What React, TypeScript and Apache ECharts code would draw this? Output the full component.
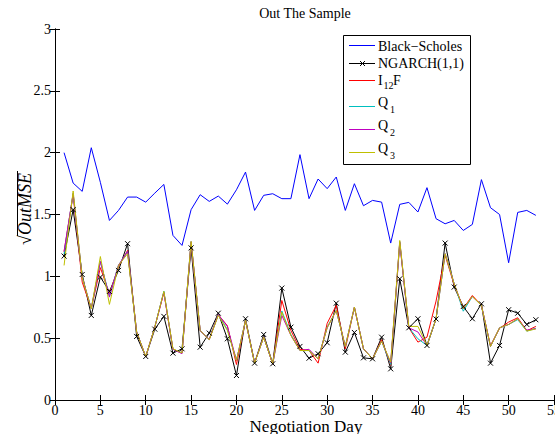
import React, { useEffect, useRef } from "react";
import * as echarts from "echarts";

const days = [1, 2, 3, 4, 5, 6, 7, 8, 9, 10, 11, 12, 13, 14, 15, 16, 17, 18, 19, 20, 21, 22, 23, 24, 25, 26, 27, 28, 29, 30, 31, 32, 33, 34, 35, 36, 37, 38, 39, 40, 41, 42, 43, 44, 45, 46, 47, 48, 49, 50, 51, 52, 53];

const blackScholes = [2.0, 1.754, 1.687, 2.04, 1.76, 1.452, 1.533, 1.641, 1.641, 1.6, 1.673, 1.743, 1.331, 1.25, 1.539, 1.66, 1.606, 1.649, 1.584, 1.7, 1.843, 1.533, 1.655, 1.668, 1.628, 1.628, 1.984, 1.628, 1.787, 1.709, 1.803, 1.533, 1.749, 1.571, 1.614, 1.6, 1.269, 1.582, 1.598, 1.52, 1.717, 1.466, 1.425, 1.452, 1.371, 1.42, 1.782, 1.555, 1.5, 1.11, 1.517, 1.533, 1.493];

const ngarch = [1.164, 1.539, 1.015, 0.684, 0.994, 0.878, 1.048, 1.264, 0.514, 0.352, 0.573, 0.676, 0.379, 0.414, 1.23, 0.427, 0.541, 0.702, 0.495, 0.198, 0.657, 0.298, 0.53, 0.293, 0.905, 0.589, 0.433, 0.338, 0.374, 0.463, 0.783, 0.387, 0.546, 0.341, 0.333, 0.508, 0.252, 0.98, 0.584, 0.657, 0.441, 0.655, 1.269, 0.913, 0.756, 0.657, 0.778, 0.298, 0.441, 0.73, 0.702, 0.611, 0.649];

const i12f = [1.2, 1.66, 0.953, 0.74, 1.07, 0.86, 1.08, 1.21, 0.55, 0.35, 0.59, 0.87, 0.41, 0.38, 1.27, 0.56, 0.49, 0.69, 0.6, 0.287, 0.643, 0.3, 0.51, 0.29, 0.805, 0.562, 0.41, 0.4, 0.298, 0.62, 0.765, 0.414, 0.75, 0.414, 0.333, 0.487, 0.28, 1.27, 0.584, 0.468, 0.508, 0.8, 1.17, 0.93, 0.74, 0.845, 0.765, 0.44, 0.58, 0.63, 0.665, 0.56, 0.595];

const q1 = [1.18, 1.67, 0.99, 0.74, 1.12, 0.84, 1.09, 1.2, 0.55, 0.35, 0.59, 0.88, 0.41, 0.38, 1.28, 0.56, 0.49, 0.69, 0.57, 0.32, 0.643, 0.3, 0.51, 0.29, 0.72, 0.53, 0.4, 0.4, 0.333, 0.59, 0.724, 0.433, 0.75, 0.414, 0.333, 0.476, 0.287, 1.28, 0.584, 0.495, 0.441, 0.657, 1.183, 0.94, 0.718, 0.837, 0.765, 0.433, 0.584, 0.611, 0.65, 0.557, 0.58];

const q2 = [1.2, 1.67, 0.99, 0.74, 1.12, 0.832, 1.09, 1.2, 0.55, 0.35, 0.59, 0.87, 0.41, 0.374, 1.28, 0.56, 0.49, 0.69, 0.595, 0.32, 0.643, 0.3, 0.51, 0.29, 0.684, 0.522, 0.4, 0.41, 0.333, 0.584, 0.724, 0.433, 0.751, 0.414, 0.333, 0.476, 0.3, 1.28, 0.584, 0.55, 0.441, 0.657, 1.183, 0.94, 0.738, 0.837, 0.765, 0.433, 0.584, 0.611, 0.657, 0.565, 0.576];

const q3 = [1.088, 1.69, 0.99, 0.738, 1.16, 0.773, 1.088, 1.183, 0.549, 0.352, 0.589, 0.878, 0.414, 0.38, 1.282, 0.562, 0.487, 0.684, 0.562, 0.32, 0.643, 0.298, 0.508, 0.293, 0.71, 0.522, 0.4, 0.4, 0.333, 0.584, 0.724, 0.433, 0.751, 0.414, 0.333, 0.476, 0.306, 1.29, 0.595, 0.595, 0.441, 0.657, 1.183, 0.94, 0.738, 0.837, 0.765, 0.433, 0.584, 0.611, 0.657, 0.557, 0.575];

const FONT = "Liberation Serif";
const xMarker = "path://M0,0L10,10M10,0L0,10";

const pairs = (vals: number[]) => days.map((d, i) => [d, vals[i]]);

export default function App() {
  const ref = useRef<HTMLDivElement>(null);
  useEffect(() => {
    if (!ref.current) return;
    const chart = echarts.init(ref.current, undefined, { renderer: "svg" });
    const axisCommon = {
      axisLine: { show: true, lineStyle: { color: "#000", width: 1 } },
      axisTick: { show: true, inside: true, length: 5, lineStyle: { color: "#000" } },
      splitLine: { show: false },
    };
    const lineSeries = (name: string, vals: number[], color: string) => ({
      name,
      type: "line",
      xAxisIndex: 0,
      yAxisIndex: 0,
      data: pairs(vals),
      showSymbol: false,
      symbol: "none",
      lineStyle: { color, width: 1 },
      itemStyle: { color },
      silent: true,
    });
    const leg = (y: number, color: string) => ({
      type: "line",
      z: 20,
      shape: { x1: 349, y1: y, x2: 375, y2: y },
      style: { stroke: color, lineWidth: 1 },
    });
    const txt = (x: number, y: number, text: string, size = 14) => ({
      type: "text",
      z: 20,
      x,
      y,
      style: { text, font: `${size}px "${FONT}"`, fill: "#000", textVerticalAlign: "middle" },
    });
    chart.setOption({
      animation: false,
      backgroundColor: "#fff",
      grid: { left: 55, right: 1, top: 29, bottom: 34, outerBoundsMode: "none", containLabel: false },
      xAxis: [
        {
          type: "value",
          min: 0,
          max: 55,
          interval: 5,
          position: "bottom",
          axisLabel: { fontFamily: FONT, fontSize: 14, color: "#000", margin: 3, showMaxLabel: true },
          ...axisCommon,
        },
        {
          type: "value",
          min: 0,
          max: 55,
          interval: 5,
          position: "top",
          axisLabel: { show: false },
          ...axisCommon,
        },
      ],
      yAxis: [
        {
          type: "value",
          min: 0,
          max: 3,
          interval: 0.5,
          position: "left",
          axisLabel: { fontFamily: FONT, fontSize: 14, color: "#000", margin: 4 },
          ...axisCommon,
        },
        {
          type: "value",
          min: 0,
          max: 3,
          interval: 0.5,
          position: "right",
          axisLabel: { show: false },
          ...axisCommon,
        },
      ],
      series: [
        lineSeries("Black−Scholes", blackScholes, "#0000FF"),
        {
          ...lineSeries("NGARCH(1,1)", ngarch, "#000000"),
          showSymbol: true,
          symbol: xMarker,
          symbolSize: 5,
          itemStyle: { color: "#000", borderColor: "#000", borderWidth: 1 },
        },
        lineSeries("I12F", i12f, "#FF0000"),
        lineSeries("Q1", q1, "#00BFBF"),
        lineSeries("Q2", q2, "#BF00BF"),
        lineSeries("Q3", q3, "#BFBF00"),
      ],
      graphic: [
        {
          type: "text",
          x: 305,
          y: 13,
          style: {
            text: "Out The Sample",
            font: `14px "${FONT}"`,
            fill: "#000",
            textAlign: "center",
            textVerticalAlign: "middle",
          },
        },
        {
          type: "text",
          x: 306,
          y: 426,
          style: {
            text: "Negotiation Day",
            font: `17px "${FONT}"`,
            fill: "#000",
            textAlign: "center",
            textVerticalAlign: "middle",
          },
        },
        {
          type: "rect",
          z: 10,
          shape: { x: 343.5, y: 35.5, width: 127, height: 129 },
          style: { fill: "#fff", stroke: "#000", lineWidth: 1 },
        },
        leg(45.5, "#0000FF"),
        txt(378, 46.5, "Black−Scholes"),
        leg(63.5, "#000000"),
        {
          type: "line",
          z: 20,
          shape: { x1: 360, y1: 61, x2: 365, y2: 66 },
          style: { stroke: "#000", lineWidth: 1 },
        },
        {
          type: "line",
          z: 20,
          shape: { x1: 365, y1: 61, x2: 360, y2: 66 },
          style: { stroke: "#000", lineWidth: 1 },
        },
        txt(378, 63.5, "NGARCH(1,1)"),
        leg(80.5, "#FF0000"),
        txt(378, 80, "I"),
        txt(383.5, 85, "12", 10),
        txt(393, 80, "F"),
        leg(106.5, "#00BFBF"),
        txt(378, 102, "Q"),
        txt(390, 109, "1", 10),
        leg(129.5, "#BF00BF"),
        txt(378, 125, "Q"),
        txt(390, 132, "2", 10),
        leg(152.5, "#BFBF00"),
        txt(378, 148, "Q"),
        txt(390, 155, "3", 10),
        {
          type: "text",
          x: 25,
          y: 209,
          rotation: Math.PI / 2,
          style: {
            text: "√OutMSE",
            font: `italic 18px "${FONT}"`,
            fill: "#000",
            textAlign: "center",
            textVerticalAlign: "middle",
          },
        },
        {
          type: "line",
          shape: { x1: 17.5, y1: 171, x2: 17.5, y2: 236 },
          style: { stroke: "#000", lineWidth: 1 },
        },
      ],
    });
    return () => chart.dispose();
  }, []);
  return (
    <div
      ref={ref}
      style={{ position: "fixed", left: 0, top: 0, width: 555, height: 434, background: "#fff" }}
    />
  );
}
